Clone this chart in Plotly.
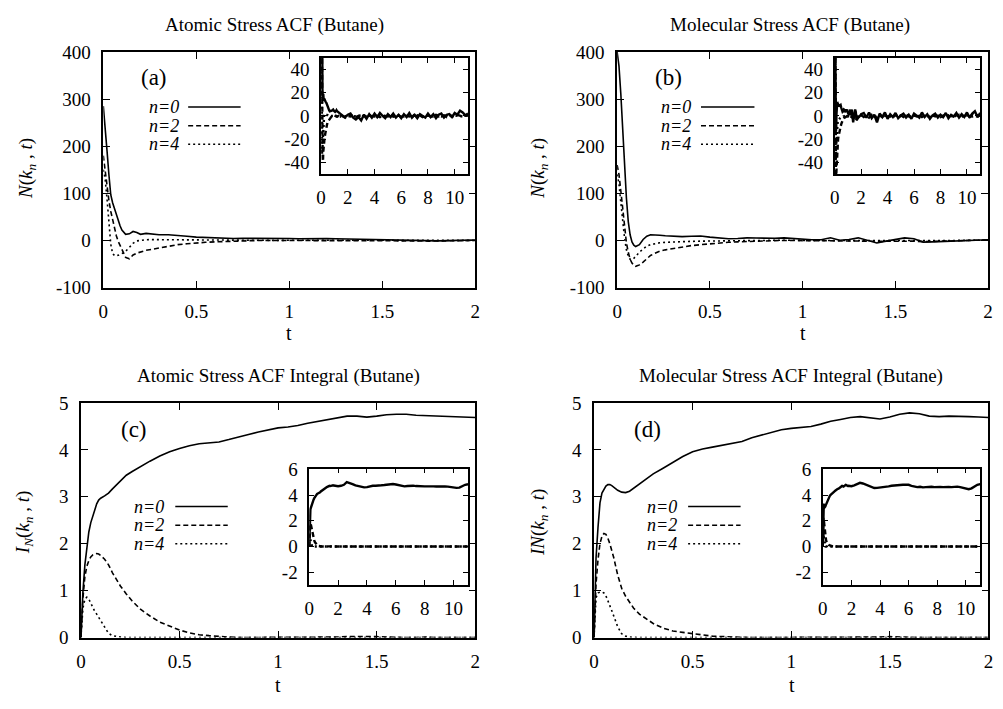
import plotly.graph_objects as go

# ---------------- data ----------------
T_MAIN = [0, 0.01, 0.02, 0.03, 0.04, 0.05, 0.06, 0.07, 0.08, 0.09, 0.10, 0.12, 0.14, 0.16, 0.18,
          0.20, 0.23, 0.26, 0.30, 0.35, 0.40, 0.45, 0.50, 0.55, 0.60, 0.65, 0.70, 0.75, 0.80, 0.85,
          0.90, 0.95, 1.00, 1.05, 1.10, 1.15, 1.20, 1.25, 1.30, 1.35, 1.40, 1.45, 1.50, 1.55, 1.60,
          1.65, 1.70, 1.75, 1.80, 1.85, 1.90, 1.95, 2.00]

T_TAIL = [2.2, 2.4, 2.6, 2.8, 3.0, 3.2, 3.4, 3.6, 3.8, 4.0, 4.2, 4.4, 4.6, 4.8, 5.0,
          5.2, 5.4, 5.6, 5.8, 6.0, 6.2, 6.4, 6.6, 6.8, 7.0, 7.2, 7.4, 7.6, 7.8, 8.0,
          8.2, 8.4, 8.6, 8.8, 9.0, 9.2, 9.4, 9.6, 9.8, 10.0, 10.2, 10.4, 10.6, 10.8, 11.0]

# (a) Atomic stress ACF
A_N0 = [285, 245, 190, 140, 97, 80, 67, 55, 44, 31, 22, 13, 14, 19, 17,
        13, 15, 14, 12, 12, 11, 9, 7, 6, 5, 4, 4, 4.5, 4.5, 5,
        5.5, 4.5, 4, 3.5, 4, 5, 4, 3.5, 3, 3, 2, 1.5, 1, 0.5, 0,
        0, -0.5, -1, -1, -0.5, 0, 0.5, 1]
A_N2 = [180, 145, 120, 85, 62, 45, 24, 10, -2, -10, -18, -36, -39, -31, -27,
        -24, -21, -19, -16, -12, -9, -7, -5, -4, -3, -2, -1.5, -1, -0.5, 0,
        0, 0.5, 0.5, 0, 0, -0.5, -0.5, 0, 0, -0.5, -1, -1, -0.5, 0, 0,
        -0.5, -1, -1.5, -1.5, -1, -0.5, 0, 0]
A_N4 = [150, 130, 88, 36, -8, -28, -32, -33, -32, -30, -28, -23, -15, -6, -1,
        0.5, 1.5, 1.7, 1.5, 1.5, 1.5, 1, 0.5, 0, 0, 0, 0.5, 0.5, 0.5, 0,
        0, 0, 0.5, 0.5, 0, 0, -0.5, 0, 0, 0.5, 0, -0.5, 0, 0, 0.5,
        0, -0.5, -0.5, 0, 0, 0, 0.5, 0]
A_N0_TAIL = [2.0, -1.5, -3.0, -1.0, -4.0, 1.0, -2.5, 1.5, -1.5, 2.0, -1.0, 2.5, 0.0, -2.0, 1.5,
             -1.0, 2.0, -1.5, 1.0, -2.0, 1.5, -1.0, 2.5, -1.5, 1.0, -2.0, 1.5, 0.0, -1.5, 2.0,
             -1.0, 1.5, -2.0, 1.0, 2.0, -1.5, 1.0, 1.5, -1.0, 2.5, 1.0, 4.5, 3.0, 0.5, 2.0]
A_N2_TAIL = [-0.5, 0.5, -1.0, 0.0, -1.5, 0.5, -0.5, 1.0, -0.5, 0.5, 0.0, -1.0, 0.5, 0.0, -0.5,
             1.0, -0.5, 0.0, 0.5, -1.0, 0.5, 0.0, -0.5, 1.0, 0.0, -0.5, 0.5, -1.0, 0.0, 0.5,
             -0.5, 0.0, 1.0, -0.5, 0.0, 0.5, -1.0, 0.5, 0.0, -0.5, 1.0, 0.0, -0.5, 0.5, 0.0]
A_N4_TAIL = [0.5, 0.0, -0.5, 0.5, 0.0, -0.5, 0.0, 0.5, 0.0, -0.5, 0.5, 0.0, -0.5, 0.0, 0.5,
             0.0, -0.5, 0.5, 0.0, 0.0, -0.5, 0.5, 0.0, -0.5, 0.0, 0.5, 0.0, -0.5, 0.5, 0.0,
             0.0, -0.5, 0.5, 0.0, -0.5, 0.0, 0.5, 0.0, -0.5, 0.5, 0.0, 0.0, -0.5, 0.5, 0.0]

# (b) Molecular stress ACF
B_N0 = [400, 370, 310, 236, 150, 90, 40, 12, -3, -10, -13, -9, 2, 9, 12,
        12, 11, 10, 9, 8, 9, 9.5, 7, 5, 3.5, 4, 5.5, 5, 4, 4.5,
        5.5, 4, 2, 1.5, 1.5, 5.5, 0.5, 2, 5.5, 0, -5.5, -1.5, 2, 5.5, 3.5,
        -3.5, -3, -2, -1.5, -1, -0.5, 0.5, 1.5]
B_N2 = [160, 140, 105, 64, 25, -5, -25, -40, -48, -53, -55, -52, -46, -38, -32,
        -28, -23, -20, -17, -14, -11, -9, -7, -5.5, -4, -3, -2, -1.5, -1, -0.5,
        0, 0, 0, -0.5, -0.5, 0, -0.5, -1, -1, -1.5, -2, -1.5, -1, -0.5, -1.5,
        -2.5, -2, -1.5, -1, -0.5, 0, 0.5, 1]
B_N4 = [140, 120, 80, 40, 5, -20, -33, -40, -41, -38, -33, -25, -18, -12, -9,
        -7, -5, -4, -3, -2.5, -2, -1.5, -1.5, -1, -1, -0.5, -0.5, 0, 0, 0.5,
        0, 0, -0.5, 0, 0, 0.5, 0, -0.5, 0, 0, -0.5, 0, 0, 0.5, 0,
        -0.5, -0.5, 0, 0, 0, 0, 0.5, 0.5]
B_N0_TAIL = [2.5, -1.5, 3.0, -2.0, 1.0, -5.5, 2.0, -1.0, 3.0, -2.5, 1.5, -1.0, 2.5, -2.0, 0.5,
             2.0, -1.5, 1.0, -2.5, 2.0, 0.0, -1.5, 3.0, -1.0, 1.5, -2.5, 0.5, 2.0, -1.5, 1.0,
             -1.0, 2.5, -2.0, 1.0, -0.5, 2.5, -1.5, 1.5, -1.0, 3.0, -1.5, 2.0, 4.0, -1.0, 2.5]
B_N2_TAIL = [-1.0, 0.5, -1.5, 1.0, -0.5, -2.0, 0.5, -1.0, 1.0, -0.5, 0.0, -1.5, 1.0, -0.5, 0.5,
             -1.0, 1.0, 0.0, -1.0, 0.5, -0.5, 1.0, -1.0, 0.5, 0.0, -1.5, 1.0, -0.5, 0.5, -1.0,
             0.0, 1.0, -0.5, 0.0, -1.0, 0.5, 1.0, -0.5, 0.0, 0.5, -1.0, 1.0, 0.0, -0.5, 0.5]
B_N4_TAIL = [0.5, -0.5, 0.0, 0.5, -1.0, 0.0, 0.5, -0.5, 0.0, 0.5, -0.5, 0.0, 0.5, 0.0, -0.5,
             0.5, 0.0, -0.5, 0.0, 0.5, -0.5, 0.0, 0.5, 0.0, -0.5, 0.0, 0.5, -0.5, 0.0, 0.5,
             0.0, -0.5, 0.5, 0.0, -0.5, 0.0, 0.5, 0.0, -0.5, 0.5, 0.0, -0.5, 0.0, 0.5, 0.0]

# (c) Atomic stress ACF integral
C_N0 = [0, 0.97, 1.55, 1.95, 2.25, 2.45, 2.6, 2.73, 2.85, 2.93, 2.97, 3.02, 3.08, 3.17, 3.25,
        3.33, 3.46, 3.54, 3.64, 3.76, 3.87, 3.96, 4.03, 4.09, 4.13, 4.15, 4.17, 4.22, 4.28, 4.33,
        4.38, 4.43, 4.47, 4.49, 4.52, 4.57, 4.61, 4.64, 4.68, 4.72, 4.72, 4.70, 4.72, 4.75, 4.76,
        4.76, 4.74, 4.73, 4.72, 4.72, 4.71, 4.70, 4.69]
C_N2 = [0, 0.83, 1.3, 1.52, 1.64, 1.72, 1.76, 1.78, 1.79, 1.78, 1.75, 1.67, 1.55, 1.38, 1.24,
        1.1, 0.93, 0.78, 0.61, 0.46, 0.33, 0.24, 0.16, 0.1, 0.06, 0.04, 0.02, 0.01, 0, 0,
        0, 0.01, 0, 0, 0.01, 0, 0, 0, 0.01, 0.02, 0.02, 0.03, 0.02, 0.01, 0,
        0, 0, 0.01, 0, 0, 0, 0, 0]
C_N4 = [0, 0.62, 0.82, 0.86, 0.82, 0.72, 0.63, 0.56, 0.5, 0.43, 0.36, 0.2, 0.09, 0.04, 0.02,
        0.01, 0, 0, 0, 0, 0, 0, 0, 0, 0, 0, 0, 0, 0, 0,
        0, 0, 0, 0, 0, 0, 0, 0, 0, 0, 0, 0, 0, 0, 0,
        0, 0, 0, 0, 0, 0, 0, 0]
C_N0_TAIL = [4.72, 4.8, 5.0, 4.95, 4.85, 4.75, 4.7, 4.62, 4.6, 4.62, 4.68, 4.72, 4.73, 4.72, 4.76,
             4.78, 4.8, 4.83, 4.86, 4.82, 4.78, 4.72, 4.68, 4.7, 4.72, 4.73, 4.7, 4.68, 4.7, 4.68,
             4.68, 4.7, 4.68, 4.67, 4.68, 4.7, 4.68, 4.66, 4.62, 4.58, 4.56, 4.58, 4.72, 4.8, 4.84]
C_N2_TAIL = [0.02, -0.02, 0.0, 0.03, -0.01, 0.0, 0.02, -0.02, 0.01, 0.0, -0.02, 0.02, 0.0, -0.01, 0.02,
             0.0, -0.02, 0.01, 0.03, 0.0, -0.02, 0.0, 0.02, -0.01, 0.0, 0.02, -0.02, 0.01, 0.0, 0.02,
             -0.01, 0.0, 0.02, -0.02, 0.0, 0.01, 0.03, -0.01, 0.0, 0.02, -0.02, 0.0, 0.01, -0.01, 0.0]
C_N4_TAIL = [0.0, 0.01, -0.01, 0.0, 0.01, 0.0, -0.01, 0.0, 0.01, 0.0, 0.0, -0.01, 0.01, 0.0, 0.0,
             0.01, -0.01, 0.0, 0.0, 0.01, 0.0, -0.01, 0.0, 0.01, 0.0, 0.0, -0.01, 0.01, 0.0, 0.0,
             0.01, 0.0, -0.01, 0.0, 0.01, 0.0, 0.0, -0.01, 0.01, 0.0, 0.0, 0.01, -0.01, 0.0, 0.0]

# (d) Molecular stress ACF integral
D_N0 = [0, 1.7, 2.35, 2.87, 3.08, 3.17, 3.23, 3.26, 3.26, 3.24, 3.21, 3.14, 3.1, 3.09, 3.12,
        3.18, 3.27, 3.37, 3.49, 3.61, 3.73, 3.86, 3.96, 4.02, 4.06, 4.1, 4.13, 4.18, 4.26, 4.32,
        4.38, 4.43, 4.46, 4.48, 4.5, 4.55, 4.61, 4.65, 4.69, 4.71, 4.69, 4.66, 4.7, 4.76, 4.79,
        4.77, 4.72, 4.71, 4.72, 4.72, 4.71, 4.70, 4.69]
D_N2 = [0, 1.15, 1.66, 2.0, 2.16, 2.22, 2.2, 2.12, 2.0, 1.86, 1.7, 1.33, 1.05, 0.88, 0.74,
        0.63, 0.5, 0.41, 0.3, 0.2, 0.14, 0.11, 0.08, 0.05, 0.03, 0.02, 0.01, 0, 0, 0,
        0, 0, 0, 0.01, 0, 0, 0, 0.01, 0.01, 0, 0, 0.01, 0.02, 0.01, 0,
        0, 0, 0, 0.01, 0, 0, 0, 0]
D_N4 = [0, 0.85, 0.95, 0.97, 0.97, 0.95, 0.89, 0.8, 0.68, 0.57, 0.45, 0.23, 0.08, 0.03, 0.01,
        0, 0, 0, 0, 0, 0, 0, 0, 0, 0, 0, 0, 0, 0, 0,
        0, 0, 0, 0, 0, 0, 0, 0, 0, 0, 0, 0, 0, 0, 0,
        0, 0, 0, 0, 0, 0, 0, 0]
D_N0_TAIL = [4.75, 4.85, 4.95, 4.9, 4.8, 4.7, 4.6, 4.55, 4.56, 4.58, 4.62, 4.65, 4.68, 4.72, 4.76,
             4.75, 4.78, 4.8, 4.82, 4.8, 4.72, 4.65, 4.62, 4.65, 4.6, 4.62, 4.66, 4.65, 4.62, 4.66,
             4.64, 4.62, 4.65, 4.64, 4.62, 4.65, 4.66, 4.62, 4.55, 4.48, 4.46, 4.52, 4.65, 4.8, 4.85]
D_N2_TAIL = [-0.02, 0.01, 0.02, -0.01, 0.0, 0.02, -0.02, 0.0, 0.01, 0.02, -0.01, 0.0, 0.02, -0.02, 0.01,
             0.0, 0.02, -0.01, 0.0, 0.01, -0.02, 0.02, 0.0, -0.01, 0.01, 0.0, 0.02, -0.02, 0.0, 0.01,
             0.02, -0.01, 0.0, 0.01, -0.02, 0.02, 0.0, -0.01, 0.01, 0.0, -0.02, 0.02, 0.0, 0.01, 0.0]
D_N4_TAIL = [0.01, 0.0, -0.01, 0.0, 0.01, 0.0, 0.0, -0.01, 0.01, 0.0, 0.0, 0.01, -0.01, 0.0, 0.0,
             0.01, 0.0, -0.01, 0.0, 0.01, 0.0, 0.0, -0.01, 0.01, 0.0, 0.0, 0.01, -0.01, 0.0, 0.0,
             0.01, 0.0, -0.01, 0.0, 0.01, 0.0, 0.0, -0.01, 0.01, 0.0, 0.0, 0.01, -0.01, 0.0, 0.0]

SERIES_NAMES = ["n=0", "n=2", "n=4"]
PANEL_LABELS = ["(a)", "(b)", "(c)", "(d)"]
TITLES = ["Atomic Stress ACF (Butane)", "Molecular Stress ACF (Butane)",
          "Atomic Stress ACF Integral (Butane)", "Molecular Stress ACF Integral (Butane)"]
YLABELS = ["<i>N</i>(<i>k<sub>n</sub></i> , <i>t</i>)", "<i>N</i>(<i>k<sub>n</sub></i> , <i>t</i>)",
           "<i>I<sub>N</sub></i>(<i>k<sub>n</sub></i> , <i>t</i>)", "<i>IN</i>(<i>k<sub>n</sub></i> , <i>t</i>)"]
XLABEL = "t"

MAIN_X_TICKS = [0, 0.5, 1, 1.5, 2]
MAIN_X_TEXT = ["0", "0.5", "1", "1.5", "2"]
ACF_Y_TICKS = [-100, 0, 100, 200, 300, 400]
ACF_Y_TEXT = ["-100", "0", "100", "200", "300", "400"]
INT_Y_TICKS = [0, 1, 2, 3, 4, 5]
INT_Y_TEXT = ["0", "1", "2", "3", "4", "5"]
INSET_X_TICKS = [0, 2, 4, 6, 8, 10]
INSET_X_TEXT = ["0", "2", "4", "6", "8", "10"]
ACF_INSET_Y_TICKS = [-40, -20, 0, 20, 40]
ACF_INSET_Y_TEXT = ["-40", "-20", "0", "20", "40"]
INT_INSET_Y_TICKS = [-2, 0, 2, 4, 6]
INT_INSET_Y_TEXT = ["-2", "0", "2", "4", "6"]

# ---------------- layout helpers (pixel -> paper) ----------------
W, H = 1003, 709
def px(x):
    return x / W
def py(y):
    return 1 - y / H

FONT = "Liberation Serif"
DASHES = ["solid", "5px,3px", "2px,3px"]
TICK_SIZE = 19

panels = [
    dict(data=[(A_N0, A_N0_TAIL), (A_N2, A_N2_TAIL), (A_N4, A_N4_TAIL)],
         main=(99.3, 475, 43.3, 286), inset=(319.3, 467.7, 49.3, 169),
         yr=[-100, 400], yt=(ACF_Y_TICKS, ACF_Y_TEXT), iyr=[-50, 50], iyt=(ACF_INSET_Y_TICKS, ACF_INSET_Y_TEXT),
         title=(272, 15), label=(151, 70), ylab=(22, 163), xlab=(287, 333),
         leg_text_x=178, leg_line=(185, 238), leg_y=(100, 119.3, 138.3)),
    dict(data=[(B_N0, B_N0_TAIL), (B_N2, B_N2_TAIL), (B_N4, B_N4_TAIL)],
         main=(618.3, 993, 43.3, 286), inset=(838, 985, 49.3, 169),
         yr=[-100, 400], yt=(ACF_Y_TICKS, ACF_Y_TEXT), iyr=[-50, 50], iyt=(ACF_INSET_Y_TICKS, ACF_INSET_Y_TEXT),
         title=(793, 15), label=(670, 70), ylab=(540, 163), xlab=(806, 333),
         leg_text_x=695, leg_line=(703, 757), leg_y=(100, 119.3, 138.3)),
    dict(data=[(C_N0, C_N0_TAIL), (C_N2, C_N2_TAIL), (C_N4, C_N4_TAIL)],
         main=(76.7, 475, 405, 646.7), inset=(307.3, 467.7, 472.7, 592.7),
         yr=[0, 5], yt=(INT_Y_TICKS, INT_Y_TEXT), iyr=[-3, 6.05], iyt=(INT_INSET_Y_TICKS, INT_INSET_Y_TEXT),
         title=(276, 377), label=(130, 432), ylab=(20, 528), xlab=(276, 696),
         leg_text_x=163, leg_line=(172, 225), leg_y=(511.7, 531, 550)),
    dict(data=[(D_N0, D_N0_TAIL), (D_N2, D_N2_TAIL), (D_N4, D_N4_TAIL)],
         main=(595, 993.3, 405, 646.7), inset=(826, 985, 472.7, 592.7),
         yr=[0, 5], yt=(INT_Y_TICKS, INT_Y_TEXT), iyr=[-3, 6.05], iyt=(INT_INSET_Y_TICKS, INT_INSET_Y_TEXT),
         title=(794, 377), label=(649, 432), ylab=(540, 528), xlab=(795, 696),
         leg_text_x=681, leg_line=(690, 743), leg_y=(511.7, 531, 550)),
]

fig = go.Figure()
layout = dict(width=W, height=H, margin=dict(l=0, r=0, t=0, b=0),
              paper_bgcolor="white", plot_bgcolor="white", showlegend=False,
              font=dict(family=FONT, color="black", size=18))
annotations = []
shapes = []

def axis_style(ticklen):
    return dict(showline=True, linecolor="black", linewidth=1.5, mirror="ticks",
                ticks="inside", ticklen=ticklen, tickwidth=1.2, tickcolor="black",
                showgrid=False, zeroline=False,
                tickfont=dict(family=FONT, size=TICK_SIZE, color="black"))

for i, p in enumerate(panels):
    mi = 2 * i + 1
    ii = 2 * i + 2
    mx, my = f"x{mi}" if mi > 1 else "x", f"y{mi}" if mi > 1 else "y"
    ix, iy = f"x{ii}", f"y{ii}"
    mxk = "xaxis" if mi == 1 else f"xaxis{mi}"
    myk = "yaxis" if mi == 1 else f"yaxis{mi}"
    ixk, iyk = f"xaxis{ii}", f"yaxis{ii}"
    x0, x1, y0, y1 = p["main"]
    layout[mxk] = dict(domain=[px(x0), px(x1)], range=[0, 2], anchor=my,
                       tickmode="array", tickvals=MAIN_X_TICKS, ticktext=MAIN_X_TEXT,
                       ticklabelstandoff=6, **axis_style(7))
    layout[myk] = dict(domain=[py(y1), py(y0)], range=p["yr"], anchor=mx,
                       tickmode="array", tickvals=p["yt"][0], ticktext=p["yt"][1],
                       ticklabelstandoff=7, **axis_style(7))
    a0, a1, b0, b1 = p["inset"]
    layout[ixk] = dict(domain=[px(a0), px(a1)], range=[0, 11], anchor=iy,
                       tickmode="array", tickvals=INSET_X_TICKS, ticktext=INSET_X_TEXT,
                       ticklabelstandoff=5, **axis_style(5))
    layout[iyk] = dict(domain=[py(b1), py(b0)], range=p["iyr"], anchor=ix,
                       tickmode="array", tickvals=p["iyt"][0], ticktext=p["iyt"][1],
                       ticklabelstandoff=6, **axis_style(5))

    for k, (vals, tail) in enumerate(p["data"]):
        fig.add_trace(go.Scatter(x=T_MAIN, y=vals, mode="lines", xaxis=mx, yaxis=my,
                                 name=SERIES_NAMES[k],
                                 line=dict(color="black", width=1.6, dash=DASHES[k])))
    for k, (vals, tail) in enumerate(p["data"]):
        fig.add_trace(go.Scatter(x=T_MAIN + T_TAIL, y=vals + tail, mode="lines", xaxis=ix, yaxis=iy,
                                 name=SERIES_NAMES[k],
                                 line=dict(color="black", width=2.4, dash=DASHES[k])))

    tx, ty = p["title"]
    annotations.append(dict(text=TITLES[i], x=px(tx), y=py(ty), xref="paper", yref="paper",
                            showarrow=False, xanchor="center", yanchor="middle",
                            font=dict(family=FONT, size=19, color="black")))
    lx, ly = p["label"]
    annotations.append(dict(text=PANEL_LABELS[i], x=px(lx), y=py(ly), xref="paper", yref="paper",
                            showarrow=False, xanchor="center", yanchor="middle",
                            font=dict(family=FONT, size=23, color="black")))
    yx, yy = p["ylab"]
    annotations.append(dict(text=YLABELS[i], x=px(yx), y=py(yy), xref="paper", yref="paper",
                            showarrow=False, textangle=-90, xanchor="center", yanchor="middle",
                            font=dict(family=FONT, size=19, color="black")))
    xx, xy = p["xlab"]
    annotations.append(dict(text=XLABEL, x=px(xx), y=py(xy), xref="paper", yref="paper",
                            showarrow=False, xanchor="center", yanchor="middle",
                            font=dict(family=FONT, size=20, color="black")))
    for k in range(3):
        ky = p["leg_y"][k]
        annotations.append(dict(text=f"<i>{SERIES_NAMES[k]}</i>", x=px(p["leg_text_x"]), y=py(ky),
                                xref="paper", yref="paper", showarrow=False,
                                xanchor="right", yanchor="middle",
                                font=dict(family=FONT, size=18, color="black")))
        shapes.append(dict(type="line", xref="paper", yref="paper",
                           x0=px(p["leg_line"][0]), x1=px(p["leg_line"][1]), y0=py(ky), y1=py(ky),
                           line=dict(color="black", width=1.6, dash=DASHES[k])))

layout["annotations"] = annotations
layout["shapes"] = shapes
fig.update_layout(**layout)
fig.write_html("out.html")
